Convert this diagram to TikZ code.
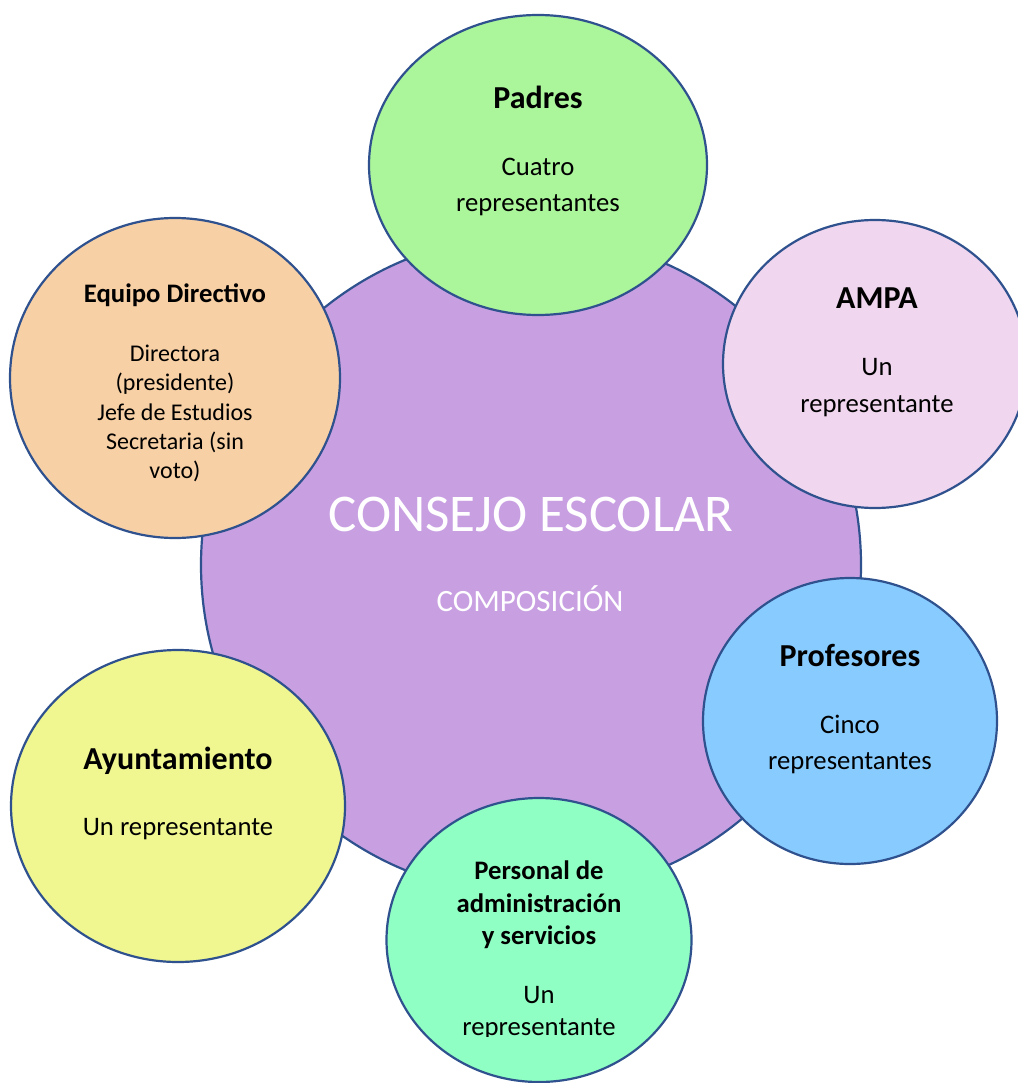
\documentclass[tikz,border=0pt]{standalone}
\usepackage{fontspec}
\setmainfont{Carlito}
\usetikzlibrary{shapes.geometric}
\definecolor{edge}{HTML}{2F528F}
\definecolor{cCentral}{HTML}{C8A0E2}
\definecolor{cPadres}{HTML}{ABF59B}
\definecolor{cAmpa}{HTML}{F0D6EE}
\definecolor{cEquipo}{HTML}{F8D0A5}
\definecolor{cAyto}{HTML}{F0F790}
\definecolor{cProf}{HTML}{88CCFF}
\definecolor{cPers}{HTML}{90FFC4}
\tikzset{
  blob/.style={ellipse, draw=edge, line width=2.2pt, inner sep=0pt},
  ttl/.style={anchor=base, inner sep=0pt, font=\fontsize{32}{38}\selectfont\bfseries},
  ttlsmall/.style={anchor=base, inner sep=0pt, font=\fontsize{26.7}{32}\selectfont\bfseries},
  body/.style={anchor=base, inner sep=0pt, font=\fontsize{26.7}{32}\selectfont},
  bodysmall/.style={anchor=base, inner sep=0pt, font=\fontsize{24}{29}\selectfont},
  bigwhite/.style={anchor=base, inner sep=0pt, text=white}
}
\begin{document}
\begin{tikzpicture}[x=1pt,y=-1pt]
\useasboundingbox[fill=white] (0,0) rectangle (1017,1083);
% central circle
\node[blob, fill=cCentral, minimum width=660pt, minimum height=660pt] (central) at (531,565) {};
% satellites
\node[blob, fill=cPadres, minimum width=338pt, minimum height=300pt] (padres) at (538,165) {};
\node[blob, fill=cAmpa, minimum width=304pt, minimum height=288pt] (ampa) at (875,364) {};
\node[blob, fill=cEquipo, minimum width=330pt, minimum height=320pt] (equipo) at (175,378) {};
\node[blob, fill=cProf, minimum width=294pt, minimum height=286pt] (prof) at (850,721) {};
\node[blob, fill=cAyto, minimum width=334pt, minimum height=312pt] (ayto) at (178,806) {};
\node[blob, fill=cPers, minimum width=305pt, minimum height=284pt] (pers) at (539,940) {};
% central text
\node[bigwhite, font=\fontsize{53}{64}\selectfont] (consejo) at (531,531) {CONSEJO ESCOLAR};
\node[bigwhite, font=\fontsize{31}{37}\selectfont] (compos) at (530,611) {COMPOSICIÓN};
% Padres
\node[ttl] (padresT) at (538,109) {Padres};
\node[body] (padresA) at (538,176) {Cuatro};
\node[body] (padresB) at (538,212) {representantes};
% AMPA
\node[ttl] (ampaT) at (877,308) {AMPA};
\node[body] (ampaA) at (877,375) {Un};
\node[body] (ampaB) at (877,412) {representante};
% Equipo Directivo
\node[ttlsmall] (equipoT) at (175,302) {Equipo Directivo};
\node[bodysmall] (equipoA) at (175,361) {Directora};
\node[bodysmall] (equipoB) at (175,390) {(presidente)};
\node[bodysmall] (equipoC) at (175,420) {Jefe de Estudios};
\node[bodysmall] (equipoD) at (175,449) {Secretaria (sin};
\node[bodysmall] (equipoE) at (175,478) {voto)};
% Profesores
\node[ttl] (profT) at (850,666) {Profesores};
\node[body] (profA) at (850,733) {Cinco};
\node[body] (profB) at (850,769) {representantes};
% Ayuntamiento
\node[ttl] (aytoT) at (178,769) {Ayuntamiento};
\node[body] (aytoA) at (178,835) {Un representante};
% Personal
\node[ttlsmall] (persT1) at (539,879) {Personal de};
\node[ttlsmall] (persT2) at (539,912) {administración};
\node[ttlsmall] (persT3) at (539,944) {y servicios};
\node[body] (persA) at (539,1003) {Un};
\begin{scope}
\clip (400,1010) rectangle (680,1036);
\node[body] (persB) at (539,1035) {representante};
\end{scope}
\end{tikzpicture}
\end{document}
